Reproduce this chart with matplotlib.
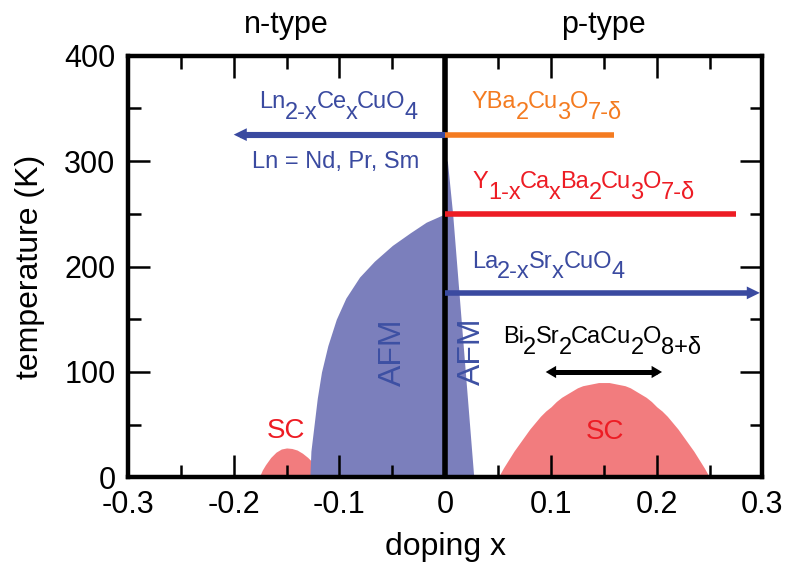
import matplotlib
matplotlib.use("Agg")
import matplotlib.pyplot as plt
from matplotlib.ticker import MultipleLocator

plt.rcParams["font.family"] = ["Liberation Sans", "DejaVu Sans"]

# ---- phase boundaries (doping x, temperature K) ----
# electron-doped antiferromagnet: boundary x for each temperature
afm_n_T = [0, 25, 50, 75, 100, 125, 150, 170, 190, 205, 220, 232, 242, 250]
afm_n_x = [-0.128, -0.127, -0.124, -0.121, -0.117, -0.111, -0.103, -0.094,
           -0.081, -0.067, -0.050, -0.033, -0.018, 0.0]
# hole-doped antiferromagnet
afm_p_T = [0, 50, 100, 150, 200, 250, 280, 300]
afm_p_x = [0.027, 0.023, 0.019, 0.015, 0.011, 0.007, 0.004, 0.002]
# electron-doped superconducting dome
sc_n_x = [-0.176, -0.173, -0.170, -0.165, -0.160, -0.155, -0.150, -0.145,
          -0.140, -0.135, -0.130, -0.125, -0.120]
sc_n_T = [0, 7, 12, 19, 24, 27, 28, 27.5, 26, 23, 19, 14, 8]
# hole-doped superconducting dome
sc_p_x = [0.050, 0.055, 0.060, 0.065, 0.070, 0.075, 0.080, 0.085, 0.090, 0.095,
          0.100, 0.105, 0.110, 0.115, 0.120, 0.125, 0.130, 0.135, 0.140, 0.145,
          0.150, 0.155, 0.160, 0.165, 0.170, 0.175, 0.180, 0.185, 0.190, 0.195,
          0.200, 0.205, 0.210, 0.215, 0.220, 0.225, 0.230, 0.235, 0.240, 0.245,
          0.250]
sc_p_T = [0, 9, 17, 25, 32, 39, 46, 52, 58, 63,
          67, 72, 76, 79, 82, 85, 87, 88, 89, 90,
          90, 90, 89, 88, 87, 85, 82, 79, 76, 72,
          67, 63, 58, 52, 46, 39, 32, 25, 17, 9,
          0]

# ---- doping ranges of individual compounds ----
ncco_T, ncco_x = 325, [0.0, -0.2]
ybco_T, ybco_x = 325, [0.0, 0.16]
ycbco_T, ycbco_x = 250, [0.0, 0.275]
lsco_T, lsco_x = 175, [0.0, 0.2975]
bscco_T, bscco_x = 100, [0.095, 0.205]

xticks = [-0.3, -0.2, -0.1, 0, 0.1, 0.2, 0.3]
xticklabels = ["-0.3", "-0.2", "-0.1", "0", "0.1", "0.2", "0.3"]
yticks = [0, 100, 200, 300, 400]

BLUE = "#3a4aa0"
AFM_FILL = "#7b7fbc"
AFM_TEXT = "#3d50a3"
SC_FILL = "#f27c7e"
SC_TEXT = "#ed1c24"
ORANGE = "#f47b20"
RED = "#ed1c24"

fig = plt.figure(figsize=(7.86, 5.70), dpi=100)
ax = fig.add_axes([0.1628, 0.1623, 0.8073, 0.7403])
ax.set_xlim(-0.3, 0.3)
ax.set_ylim(0, 400)

# phase regions
ax.fill_between(sc_n_x, 0, sc_n_T, color=SC_FILL, lw=0, zorder=1)
ax.fill_between(sc_p_x, 0, sc_p_T, color=SC_FILL, lw=0, zorder=1)
ax.fill_betweenx(afm_n_T, afm_n_x, 0, color=AFM_FILL, lw=0, zorder=1.2)
ax.fill_betweenx(afm_p_T, 0, afm_p_x, color=AFM_FILL, lw=0, zorder=1.2)

ax.axvline(0, color="black", lw=4, zorder=3)

# pixels per data unit along x, for placing shafts under arrow heads
px_per_x = ax.bbox.width / 0.6


def arrow(xs, T, color, lw, head_len, head_w, both=False):
    """Shaft drawn as a line, heads as filled triangles (sizes in points)."""
    back = head_len * 0.5 * fig.dpi / 72 / px_per_x
    x0, x1 = xs
    sgn = 1 if x1 > x0 else -1
    s0 = x0 + sgn * back if both else x0
    s1 = x1 - sgn * back
    ax.plot([s0, s1], [T, T], color=color, lw=lw, solid_capstyle="butt",
            zorder=4)
    style = "<|-|>" if both else "-|>"
    ax.annotate("", xy=(x1, T), xytext=(x0, T),
                arrowprops=dict(arrowstyle=f"{style},head_length={head_len / 10},"
                                           f"head_width={head_w / 10}",
                                mutation_scale=10, lw=0, color=color,
                                shrinkA=0, shrinkB=0),
                zorder=5)


arrow(ncco_x, ncco_T, BLUE, 4.4, 9.4, 4.6)
ax.plot(ybco_x, [ybco_T] * 2, color=ORANGE, lw=4.0, solid_capstyle="butt", zorder=4)
ax.plot(ycbco_x, [ycbco_T] * 2, color=RED, lw=4.0, solid_capstyle="butt", zorder=4)
arrow(lsco_x, lsco_T, BLUE, 4.0, 9.4, 4.6)
arrow(bscco_x, bscco_T, "black", 3.6, 7.5, 4.4, both=True)

renderer = fig.canvas.get_renderer()


def formula(x, y, parts, size, color, ha="left", shift=0.45, gap=-0.03):
    """Chemical formula with full-size, lowered subscripts."""
    texts, pos = [], 0.0
    for s, sub in parts:
        t = ax.annotate(s, xy=(x, y), xytext=(pos, -shift * size if sub else 0),
                        textcoords="offset points", fontsize=size, color=color,
                        ha="left", va="baseline", zorder=6, annotation_clip=False)
        pos += t.get_window_extent(renderer).width * 72 / fig.dpi + gap * size
        texts.append(t)
    total = pos - gap * size
    if ha == "center":
        for t in texts:
            dx, dy = t.xyann
            t.xyann = (dx - total / 2, dy)


FS = 17
formula(-0.101, 350, [("Ln", 0), ("2-x", 1), ("Ce", 0), ("x", 1), ("CuO", 0), ("4", 1)],
        FS, BLUE, ha="center")
ax.text(-0.104, 293, "Ln = Nd, Pr, Sm", fontsize=FS, color=BLUE,
        ha="center", va="baseline", zorder=6)
formula(0.025, 350, [("YBa", 0), ("2", 1), ("Cu", 0), ("3", 1), ("O", 0), ("7-δ", 1)],
        FS, ORANGE)
formula(0.026, 274, [("Y", 0), ("1-x", 1), ("Ca", 0), ("x", 1), ("Ba", 0), ("2", 1),
                     ("Cu", 0), ("3", 1), ("O", 0), ("7-δ", 1)], FS, RED)
formula(0.025, 199, [("La", 0), ("2-x", 1), ("Sr", 0), ("x", 1), ("CuO", 0), ("4", 1)],
        FS, BLUE)
formula(0.0546, 127.5, [("Bi", 0), ("2", 1), ("Sr", 0), ("2", 1), ("CaCu", 0), ("2", 1),
                        ("O", 0), ("8+δ", 1)], FS, "black")

# phase labels
ax.text(-0.049, 119, "AFM", rotation=90, fontsize=23, color=AFM_TEXT,
        ha="center", va="center", zorder=6)
ax.text(0.0255, 120, "AFM", rotation=90, fontsize=23, color=AFM_TEXT,
        ha="center", va="center", zorder=6)
ax.text(-0.151, 44, "SC", fontsize=20, color=SC_TEXT, ha="center", va="center", zorder=6)
ax.text(0.151, 43, "SC", fontsize=20, color=SC_TEXT, ha="center", va="center", zorder=6)

ax.text(-0.15, 1.053, "n-type", transform=ax.get_xaxis_transform(), fontsize=22,
        ha="center", va="baseline")
ax.text(0.15, 1.053, "p-type", transform=ax.get_xaxis_transform(), fontsize=22,
        ha="center", va="baseline")

# axes styling
ax.set_xticks(xticks)
ax.set_xticklabels(xticklabels)
ax.set_yticks(yticks)
ax.xaxis.set_minor_locator(MultipleLocator(0.05))
ax.yaxis.set_minor_locator(MultipleLocator(50))
ax.tick_params(which="both", direction="in", top=True, right=True, width=1.8,
               labelsize=22)
ax.tick_params(axis="x", pad=9)
ax.tick_params(axis="y", pad=9)
ax.tick_params(which="major", length=16)
ax.tick_params(which="minor", length=9)
for sp in ax.spines.values():
    sp.set_linewidth(3.2)

ax.set_xlabel("doping x", fontsize=23, labelpad=9)
ax.set_ylabel("temperature (K)", fontsize=23, labelpad=14)

fig.savefig("out.png", dpi=100)
